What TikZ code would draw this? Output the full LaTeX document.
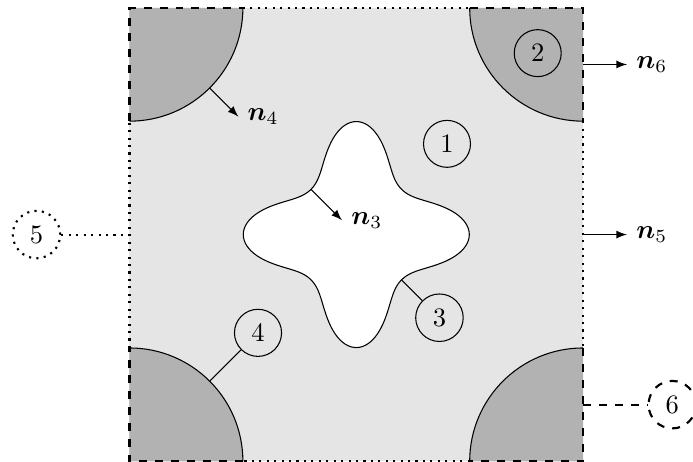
\documentclass[tikz,border=0pt]{standalone}
\usepackage{bm}
\usetikzlibrary{calc}
\begin{document}
\begin{tikzpicture}[
  num/.style={circle,draw},
  bnddot/.style={thick,dotted},
  bnddash/.style={thick,dashed},
  normalvec/.style={-latex}
]
\useasboundingbox (-4.713,-3.008) rectangle (4.454,3.103);
% domain
\fill[gray!20] (-3,-3) rectangle (3,3);
% corner inclusions
\fill[gray!60] (-3,3) -- (-1.5,3) arc[start angle=0,end angle=-90,radius=1.5] -- cycle;
\fill[gray!60] (3,3) -- (3,1.5) arc[start angle=270,end angle=180,radius=1.5] -- cycle;
\fill[gray!60] (3,-3) -- (1.5,-3) arc[start angle=180,end angle=90,radius=1.5] -- cycle;
\fill[gray!60] (-3,-3) -- (-3,-1.5) arc[start angle=90,end angle=0,radius=1.5] -- cycle;
\draw (-1.5,3) arc[start angle=0,end angle=-90,radius=1.5];
\draw (3,1.5) arc[start angle=270,end angle=180,radius=1.5];
\draw (1.5,-3) arc[start angle=180,end angle=90,radius=1.5];
\draw (-3,-1.5) arc[start angle=90,end angle=0,radius=1.5];
% star-shaped hole
\draw[fill=white] plot[domain=0:360,samples=241,variable=\t]
  ({(1.131+0.324*cos(4*\t)+0.04*cos(8*\t))*cos(\t)},
   {(1.131+0.324*cos(4*\t)+0.04*cos(8*\t))*sin(\t)}) -- cycle;
% outer boundary
\draw[bnddot] (-1.5,3) -- (1.5,3);
\draw[bnddot] (3,1.5) -- (3,-1.5);
\draw[bnddot] (1.5,-3) -- (-1.5,-3);
\draw[bnddot] (-3,-1.5) -- (-3,1.5);
\draw[bnddash] (-3,1.5) -- (-3,3) -- (-1.5,3);
\draw[bnddash] (1.5,3) -- (3,3) -- (3,1.5);
\draw[bnddash] (3,-1.5) -- (3,-3) -- (1.5,-3);
\draw[bnddash] (-1.5,-3) -- (-3,-3) -- (-3,-1.5);
% coordinates
\coordinate (a4) at (-1.9393,1.9393);
\coordinate (a4e) at (-1.56,1.56);
\coordinate (s3) at (-0.599,0.599);
\coordinate (s3e) at (-0.19,0.19);
\coordinate (r6) at (3,2.25);
\coordinate (r6e) at (3.58,2.25);
\coordinate (r5) at (3,0);
\coordinate (r5e) at (3.58,0);
\coordinate (t3) at (0.599,-0.599);
\coordinate (b4) at (-1.9393,-1.9393);
\coordinate (e5) at (-3,0);
\coordinate (e6) at (3,-2.25);
% labels
\node[num] (c1) at (1.2,1.2) {1};
\node[num] (c2) at (2.4,2.4) {2};
\node[num] (c3) at (1.1,-1.1) {3};
\node[num] (c4) at (-1.3,-1.3) {4};
\node[num,bnddot] (c5) at (-4.23,0) {5};
\node[num,bnddash] (c6) at (4.18,-2.25) {6};
\draw (t3) -- (c3);
\draw (b4) -- (c4);
\draw[bnddot] (c5) -- (e5);
\draw[bnddash] (e6) -- (c6);
% normals
\draw[normalvec] (a4) -- (a4e) node[right] (n4) {$\bm{n}_4$};
\draw[normalvec] (s3) -- (s3e) node[right] (n3) {$\bm{n}_3$};
\draw[normalvec] (r6) -- (r6e) node[right] (n6) {$\bm{n}_6$};
\draw[normalvec] (r5) -- (r5e) node[right] (n5) {$\bm{n}_5$};
\end{tikzpicture}
\end{document}
